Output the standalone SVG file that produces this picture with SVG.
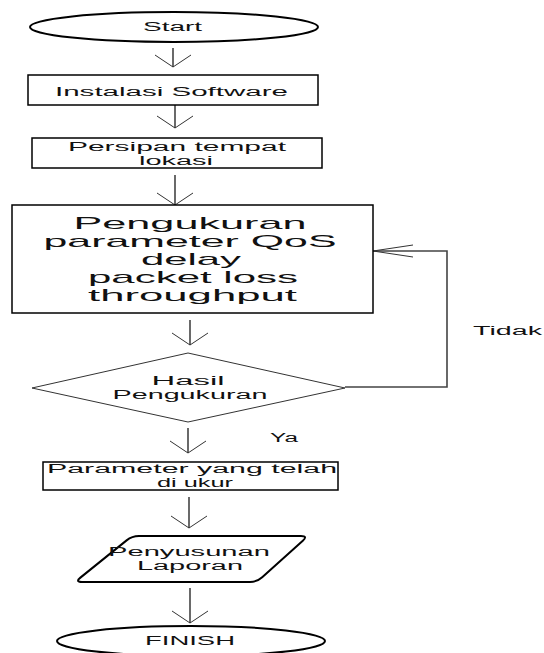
<svg xmlns="http://www.w3.org/2000/svg" width="544" height="653" viewBox="0 0 544 653">
<style>
text{font-family:"Liberation Sans",Arial,sans-serif;fill:#111;text-anchor:middle}
.s{font-size:12px}
.b{font-size:17px}
.box{fill:#fff;stroke:#000;stroke-width:1.5}
.term{fill:#fff;stroke:#000;stroke-width:2}
.dia{fill:#fff;stroke:#333;stroke-width:1}
.con{fill:none;stroke:#444;stroke-width:1.6}
.ah{fill:none;stroke:#333;stroke-width:1}
</style>
<defs>
<marker id="v" markerUnits="userSpaceOnUse" orient="auto" refX="0" refY="0" markerWidth="50" markerHeight="50" viewBox="-40 -25 50 50" overflow="visible">
<path class="ah" d="M-12,-18 L0,0 L-12,18"/>
</marker>
<marker id="vl" markerUnits="userSpaceOnUse" orient="auto" refX="0" refY="0" markerWidth="50" markerHeight="50" viewBox="-45 -25 50 50" overflow="visible">
<path class="ah" d="M-40,-6 L0,0 L-40,6"/>
</marker>
</defs>
<g id="connectors">
<line class="con" x1="173" y1="48" x2="173" y2="67" marker-end="url(#v)"/>
<line class="con" x1="175" y1="105" x2="175" y2="128" marker-end="url(#v)"/>
<line class="con" x1="175" y1="175" x2="175" y2="205" marker-end="url(#v)"/>
<line class="con" x1="190" y1="320" x2="190" y2="345" marker-end="url(#v)"/>
<line class="con" x1="188" y1="428" x2="188" y2="453" marker-end="url(#v)"/>
<line class="con" x1="189" y1="497" x2="189" y2="528" marker-end="url(#v)"/>
<line class="con" x1="190" y1="588" x2="190" y2="623" marker-end="url(#v)"/>
<polyline class="con" points="345,387 447,387 447,251 373,251" marker-end="url(#vl)"/>
<text class="s" x="507.5" y="334.5" textLength="69" lengthAdjust="spacingAndGlyphs">Tidak</text>
<text class="s" x="284" y="442" textLength="28" lengthAdjust="spacingAndGlyphs">Ya</text>
</g>
<g id="start">
<ellipse class="term" cx="174" cy="27" rx="144" ry="15"/>
<text class="s" x="172.5" y="30.5" font-size="13" textLength="59" lengthAdjust="spacingAndGlyphs">Start</text>
</g>
<g id="instalasi">
<rect class="box" x="28" y="75" width="290" height="30"/>
<text class="s" x="171.5" y="95.5" font-size="13" textLength="233" lengthAdjust="spacingAndGlyphs">Instalasi Software</text>
</g>
<g id="persiapan">
<rect class="box" x="32" y="138" width="290" height="30"/>
<text class="s" x="177" y="151" textLength="218" lengthAdjust="spacingAndGlyphs">Persipan tempat</text>
<text class="s" x="176" y="165" textLength="74" lengthAdjust="spacingAndGlyphs">lokasi</text>
</g>
<g id="pengukuran">
<rect class="box" x="12" y="205" width="361" height="108"/>
<text class="b" x="190" y="229" textLength="233" lengthAdjust="spacingAndGlyphs">Pengukuran</text>
<text class="b" x="190" y="247" textLength="293" lengthAdjust="spacingAndGlyphs">parameter QoS</text>
<text class="b" x="191" y="265" textLength="100" lengthAdjust="spacingAndGlyphs">delay</text>
<text class="b" x="193" y="283" textLength="210" lengthAdjust="spacingAndGlyphs">packet loss</text>
<text class="b" x="192.5" y="301" textLength="209" lengthAdjust="spacingAndGlyphs">throughput</text>
</g>
<g id="hasil">
<polygon class="dia" points="32,388 188,353 345,388 188,422"/>
<text class="s" x="188" y="385" textLength="73" lengthAdjust="spacingAndGlyphs">Hasil</text>
<text class="s" x="190" y="399" textLength="155" lengthAdjust="spacingAndGlyphs">Pengukuran</text>
</g>
<g id="parameter">
<rect class="box" x="43" y="462" width="295" height="28"/>
<text class="s" x="192" y="472.5" textLength="290" lengthAdjust="spacingAndGlyphs">Parameter yang telah</text>
<text class="s" x="195" y="486.5" textLength="76" lengthAdjust="spacingAndGlyphs">di ukur</text>
</g>
<g id="laporan">
<path class="term" d="M139,536 L301,536 Q308,536 302.8,540.7 L262.2,577.3 Q257,582 250,582 L82,582 Q75,582 80.4,577.6 L126.6,540.4 Q132,536 139,536 Z"/>
<text class="s" x="189" y="556" textLength="162" lengthAdjust="spacingAndGlyphs">Penyusunan</text>
<text class="s" x="190" y="570" textLength="106" lengthAdjust="spacingAndGlyphs">Laporan</text>
</g>
<g id="finish">
<ellipse class="term" cx="191" cy="641" rx="134" ry="15"/>
<text class="s" x="190" y="645" font-size="13" textLength="90" lengthAdjust="spacingAndGlyphs">FINISH</text>
</g>
</svg>
